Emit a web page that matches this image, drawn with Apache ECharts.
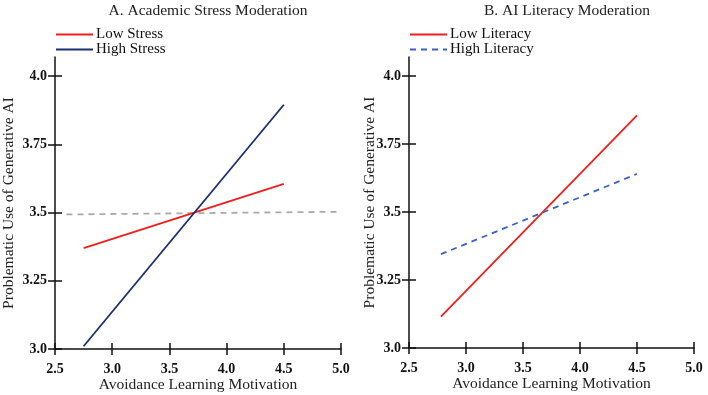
<!DOCTYPE html>
<html>
<head>
<meta charset="utf-8">
<script src="https://cdn.jsdelivr.net/npm/echarts@6/dist/echarts.min.js"></script>
<style>
  html, body { margin: 0; padding: 0; background: #fff; }
  #chart { width: 708px; height: 395px; }
</style>
</head>
<body>
<div id="chart"></div>
<script>
// tick labels
var xTicks = [2.5, 3.0, 3.5, 4.0, 4.5, 5.0];
var yTicks = [3.0, 3.25, 3.5, 3.75, 4.0];

// panel A: academic stress
var lowStress = [[2.75, 3.37], [4.5, 3.605]];
var highStress = [[2.75, 3.01], [4.5, 3.895]];
var refLine = [[2.6, 3.493], [5.0, 3.503]];

// panel B: AI literacy
var lowLiteracy = [[2.78, 3.115], [4.5, 3.855]];
var highLiteracy = [[2.78, 3.345], [4.5, 3.64]];

var FONT = "Liberation Serif";
var grids = [
  { left: 55, right: 367, top: 57, bottom: 46, outerBoundsMode: "none" },
  { left: 409, right: 14, top: 57, bottom: 47, outerBoundsMode: "none" }
];

function xAxes(g) {
  return [
    {
      gridIndex: g, type: "value", min: 2.5, max: 5.0, interval: 0.5,
      name: "Avoidance Learning Motivation", nameLocation: "middle", nameGap: 28,
      nameMoveOverlap: false,
      nameTextStyle: { fontFamily: FONT, fontSize: 15.5, color: "#222" },
      axisLine: { lineStyle: { color: "#111", width: 1.5 } },
      axisTick: { length: 6, lineStyle: { color: "#111", width: 1.5 } },
      axisLabel: { fontFamily: FONT, fontSize: 14, fontWeight: "bold", color: "#111", margin: 13,
        formatter: function (v) { return v.toFixed(1); } },
      splitLine: { show: false }
    },
    {
      gridIndex: g, type: "value", min: 2.5, max: 5.0, interval: 0.5, position: "bottom",
      axisLine: { show: false },
      axisTick: { inside: true, length: 6, lineStyle: { color: "#111", width: 1.5 } },
      axisLabel: { show: false },
      splitLine: { show: false }
    }
  ];
}

function yAxes(g, gap) {
  return [
    {
      gridIndex: g, type: "value", min: 3.0, max: 4.07,
      name: "Problematic Use of Generative AI", nameLocation: "middle", nameGap: gap,
      nameMoveOverlap: false,
      nameTextStyle: { fontFamily: FONT, fontSize: 15.5, color: "#222" },
      axisLine: { show: true, lineStyle: { color: "#111", width: 1.5 } },
      axisTick: { show: true, length: 7, customValues: yTicks, lineStyle: { color: "#111", width: 1.5 } },
      axisLabel: { fontFamily: FONT, fontSize: 14, fontWeight: "bold", color: "#111", margin: 8,
        customValues: yTicks,
        formatter: function (v) { return v % 1 === 0 ? v.toFixed(1) : String(v); } },
      splitLine: { show: false }
    },
    {
      gridIndex: g, type: "value", min: 3.0, max: 4.07, position: "left",
      axisLine: { show: false },
      axisTick: { show: true, inside: true, length: 7, customValues: yTicks, lineStyle: { color: "#111", width: 1.5 } },
      axisLabel: { show: false, customValues: yTicks },
      splitLine: { show: false }
    }
  ];
}

function line(name, data, xi, yi, color, type) {
  return {
    name: name, type: "line", data: data, xAxisIndex: xi, yAxisIndex: yi,
    symbol: "none", silent: true,
    lineStyle: { color: color, width: 1.8, type: type || "solid" },
    itemStyle: { color: color }
  };
}

function legend(id, names, left) {
  return {
    id: id, data: names, orient: "vertical", left: left, top: 27, padding: 0,
    itemWidth: 37, itemHeight: 10, itemGap: 0,
    itemStyle: { opacity: 0 },
    textStyle: { fontFamily: FONT, fontSize: 15, color: "#111", padding: [0, 0, 0, -2] }
  };
}

var option = {
  animation: false,
  backgroundColor: "#fff",
  title: [
    { text: "A. Academic Stress Moderation", left: 203, top: -2, textAlign: "center",
      textStyle: { fontFamily: FONT, fontSize: 15.5, fontWeight: "normal", color: "#222" } },
    { text: "B. AI Literacy Moderation", left: 562, top: -2, textAlign: "center",
      textStyle: { fontFamily: FONT, fontSize: 15.5, fontWeight: "normal", color: "#222" } }
  ],
  legend: [
    legend("legA", ["Low Stress", "High Stress"], 55),
    legend("legB", ["Low Literacy", "High Literacy"], 409)
  ],
  grid: grids,
  xAxis: xAxes(0).concat(xAxes(1)),
  yAxis: yAxes(0, 38).concat(yAxes(1, 31)),
  series: [
    line("", refLine, 0, 0, "#aaaaaa", [6, 5]),
    line("Low Stress", lowStress, 0, 0, "#f21d1d"),
    line("High Stress", highStress, 0, 0, "#1b2f6e"),
    line("Low Literacy", lowLiteracy, 2, 2, "#f21d1d"),
    line("High Literacy", highLiteracy, 2, 2, "#3a62c2", [6, 5])
  ]
};

var chart = echarts.init(document.getElementById("chart"));
chart.setOption(option);
</script>
</body>
</html>
